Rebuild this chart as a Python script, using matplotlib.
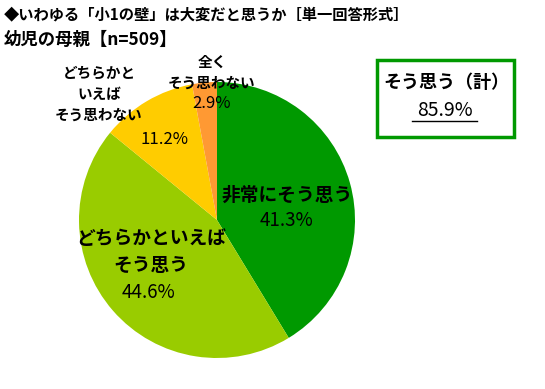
import matplotlib
matplotlib.use("Agg")
import matplotlib.pyplot as plt
from matplotlib.patches import Rectangle

plt.rcParams['font.family'] = ['Noto Sans CJK JP', 'DejaVu Sans']

categories = ["非常にそう思う", "どちらかといえば\nそう思う", "どちらかと\nいえば\nそう思わない", "全く\nそう思わない"]
values = [41.3, 44.6, 11.2, 2.9]
colors = ["#009900", "#99CC00", "#FFCC00", "#FF9933"]
total_label = "そう思う（計）"
total_value = 85.9
title1 = "◆いわゆる「小1の壁」は大変だと思うか［単一回答形式］"
title2 = "幼児の母親【n=509】"

W, H = 545, 389
fig = plt.figure(figsize=(W / 100, H / 100), dpi=100)

def fx(x):
    return x / W

def fy(y):
    return 1 - y / H

cx, cy, r = 217, 220, 138
ax = fig.add_axes([fx(cx - r), fy(cy + r), 2 * r / W, 2 * r / H])
ax.pie(values, colors=colors, startangle=90, counterclock=False,
       wedgeprops=dict(linewidth=0), radius=1)
ax.set_xlim(-1, 1)
ax.set_ylim(-1, 1)
ax.set_aspect('equal')
ax.axis('off')

fig.text(fx(4), fy(14), title1, fontsize=11, fontweight='bold', va='center', ha='left')
fig.text(fx(4), fy(40), title2, fontsize=12.5, fontweight='bold', va='center', ha='left')


def put_lines(text, x, y0, dy, size):
    for i, line in enumerate(text.split("\n")):
        fig.text(fx(x), fy(y0 + i * dy), line, fontsize=size, fontweight='bold',
                 ha='center', va='center')


pct_kw = dict(fontsize=13.5, ha='center', va='center')

put_lines(categories[0], 287, 195, 0, 13.5)
fig.text(fx(287), fy(220), f"{values[0]}%", **pct_kw)

put_lines(categories[1], 151, 239, 26, 13.5)
fig.text(fx(149), fy(293), f"{values[1]}%", **pct_kw)

put_lines(categories[2], 99, 73, 21, 10.5)
fig.text(fx(164), fy(139), f"{values[2]}%", fontsize=12, ha='center', va='center')

put_lines(categories[3], 212, 62, 21, 10.5)
fig.text(fx(212), fy(104), f"{values[3]}%", fontsize=12, ha='center', va='center')

# total box
fig.patches.append(Rectangle((fx(377), fy(137)), (514 - 377) / W, (137 - 60) / H,
                             transform=fig.transFigure, fill=False,
                             edgecolor="#009900", linewidth=2.5))
fig.text(fx(446), fy(83), total_label, fontsize=13, fontweight='bold', ha='center', va='center')
fig.text(fx(445), fy(110), f"{total_value}%", fontsize=14, ha='center', va='center')
fig.lines.append(plt.Line2D([fx(412), fx(477)], [fy(121), fy(121)], transform=fig.transFigure,
                            color='black', linewidth=1))

fig.savefig("out.png", dpi=100)
